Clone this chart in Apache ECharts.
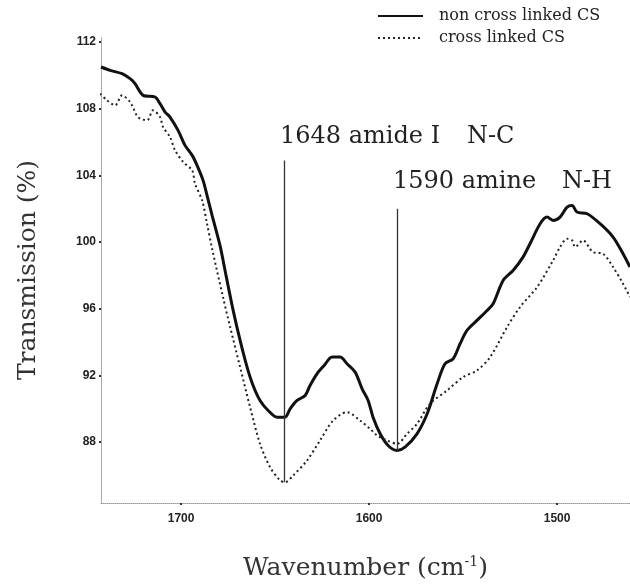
<!DOCTYPE html>
<html><head><meta charset="utf-8">
<script src="https://cdn.jsdelivr.net/npm/echarts@6/dist/echarts.min.js"></script>
<style>html,body{margin:0;padding:0;background:#fff}#c{width:630px;height:584px}</style>
</head><body><div id="c"></div>
<script>
// Wavenumber (cm-1) and transmission (%)
const wnSolid = [1742.6,1737.8,1731.4,1727.1,1724.5,1720.2,1713.8,1711.2,1708.5,1705.9,1701.6,1697.9,1694.1,1691.5,1688.3,1686.2,1683.5,1679.3,1676.1,1672.3,1668.6,1664.9,1661.7,1658.0,1653.7,1648.9,1644.7,1642.0,1638.3,1634.0,1631.4,1627.7,1623.9,1619.7,1615.4,1611.7,1607.4,1603.7,1600.5,1597.9,1594.1,1589.9,1585.1,1580.9,1574.5,1569.1,1563.8,1559.6,1555.3,1551.6,1547.9,1542.6,1537.2,1534.0,1528.7,1523.4,1518.1,1514.4,1509.0,1505.3,1502.1,1498.4,1494.7,1492.0,1489.4,1484.0,1477.1,1470.2,1464.9,1461.2];
const tSolid = [110.5,110.3,110.1,109.8,109.5,108.8,108.7,108.3,107.8,107.5,106.7,105.8,105.2,104.6,103.7,102.8,101.6,99.8,98.0,95.9,94.1,92.5,91.4,90.5,89.9,89.5,89.5,90.0,90.5,90.8,91.4,92.1,92.6,93.1,93.1,92.7,92.2,91.2,90.5,89.5,88.5,87.8,87.5,87.7,88.5,89.7,91.5,92.7,93.0,93.9,94.7,95.3,95.9,96.3,97.7,98.3,99.1,99.9,101.1,101.5,101.3,101.5,102.1,102.2,101.8,101.7,101.1,100.3,99.3,98.5];
const wnDotted = [1743.1,1739.4,1735.1,1731.4,1727.1,1722.9,1718.1,1714.9,1711.2,1709.6,1705.9,1703.2,1698.9,1694.1,1692.6,1688.8,1686.2,1683.5,1677.7,1673.9,1668.6,1663.3,1658.0,1652.7,1647.3,1644.7,1640.4,1633.0,1626.1,1619.1,1611.7,1604.8,1599.5,1595.7,1590.4,1585.1,1579.8,1574.5,1567.6,1558.5,1550.0,1542.6,1535.6,1526.6,1519.7,1510.6,1502.1,1498.4,1494.7,1492.0,1490.4,1486.2,1480.9,1475.5,1470.2,1464.9,1461.2];
const tDotted = [108.9,108.5,108.2,108.8,108.4,107.5,107.3,107.9,107.5,106.9,106.3,105.5,104.8,104.3,103.5,102.5,101.1,99.6,96.7,94.9,92.5,90.1,87.9,86.5,85.7,85.6,86.0,86.9,88.1,89.3,89.8,89.3,88.8,88.4,88.1,87.9,88.5,89.1,90.3,91.1,91.9,92.3,93.1,94.9,96.1,97.3,98.9,99.7,100.2,100.1,99.7,100.1,99.4,99.3,98.5,97.5,96.7];

const seriesNames = ['non cross linked CS', 'cross linked CS'];
const xTicks = [1700, 1600, 1500];
const yTicks = [88, 92, 96, 100, 104, 108, 112];

// Annotation lines (positions as drawn in the reference) and labels
const peakWn = [1645, 1585];
const peakTop = [104.9, 102.0];
const peakBottom = [85.6, 87.5];
const peakLabels = ['1648 amide I', '1590 amine'];
const bondLabels = ['N-C', 'N-H'];

const chart = echarts.init(document.getElementById('c'), null, {renderer: 'canvas'});
const serif = '"DejaVu Serif", serif';

chart.setOption({
  animation: false,
  backgroundColor: '#fff',
  grid: {left: 101, right: 0, top: 37, bottom: 81, containLabel: false, outerBoundsMode: 'none'},
  legend: {
    data: seriesNames,
    orient: 'vertical',
    left: 372, top: 3,
    itemWidth: 45, itemHeight: 12, itemGap: 6,
    itemStyle: {opacity: 0},
    textStyle: {fontFamily: serif, fontSize: 16, color: '#222', padding: [0, 0, 0, 11]}
  },
  xAxis: {
    type: 'value', inverse: true, min: 1461.2, max: 1742.6,
    name: '{a|Wavenumber (cm}{s|-1}{a|)}',
    nameLocation: 'middle', nameGap: 52,
    nameTextStyle: {
      rich: {
        a: {fontFamily: serif, fontSize: 25, color: '#333'},
        s: {fontFamily: serif, fontSize: 14, color: '#333', verticalAlign: 'top', padding: [0, 0, 12, 0]}
      }
    },
    axisLine: {show: true, lineStyle: {color: '#999', type: 'dotted', width: 1}},
    axisTick: {show: true, customValues: xTicks, length: 2, lineStyle: {color: '#333', width: 2}},
    axisLabel: {customValues: xTicks, margin: 10, formatter: v => String(Math.round(v)), fontFamily: '"Liberation Sans", sans-serif', fontWeight: 'bold', fontSize: 12, color: '#222'},
    splitLine: {show: false}
  },
  yAxis: {
    type: 'value', min: 84.35, max: 112.3,
    name: 'Transmission (%)',
    nameLocation: 'middle', nameGap: 60, nameRotate: 90,
    nameTextStyle: {fontFamily: serif, fontSize: 25, color: '#333'},
    axisLine: {show: true, lineStyle: {color: '#999', type: 'dotted', width: 1}},
    axisTick: {show: true, customValues: yTicks, length: 2, lineStyle: {color: '#333', width: 2}},
    axisLabel: {customValues: yTicks, margin: 5, formatter: v => String(Math.round(v)), fontFamily: '"Liberation Sans", sans-serif', fontWeight: 'bold', fontSize: 12, color: '#222'},
    splitLine: {show: false}
  },
  series: [
    {
      name: seriesNames[0], type: 'line', symbol: 'none', smooth: 0.3,
      data: wnSolid.map((w, i) => [w, tSolid[i]]),
      lineStyle: {color: '#111', width: 3, type: 'solid'},
      itemStyle: {color: '#111'},
      markLine: {
        silent: true, symbol: 'none',
        label: {show: false},
        lineStyle: {color: '#333', width: 1.3, type: 'solid'},
        data: peakWn.map((w, i) => [{coord: [w, peakTop[i]]}, {coord: [w, peakBottom[i]]}])
      }
    },
    {
      name: seriesNames[1], type: 'line', symbol: 'none', smooth: 0.3,
      data: wnDotted.map((w, i) => [w, tDotted[i]]),
      lineStyle: {color: '#222', width: 2, type: [2, 3]},
      itemStyle: {color: '#222'}
    }
  ],
  graphic: [
    {type: 'text', left: 280, top: 125, style: {text: peakLabels[0], font: '24px "DejaVu Serif"', fill: '#222'}},
    {type: 'text', left: 467, top: 125, style: {text: bondLabels[0], font: '24px "DejaVu Serif"', fill: '#222'}},
    {type: 'text', left: 393, top: 170, style: {text: peakLabels[1], font: '24px "DejaVu Serif"', fill: '#222'}},
    {type: 'text', left: 562, top: 170, style: {text: bondLabels[1], font: '24px "DejaVu Serif"', fill: '#222'}}
  ]
});
</script></body></html>
